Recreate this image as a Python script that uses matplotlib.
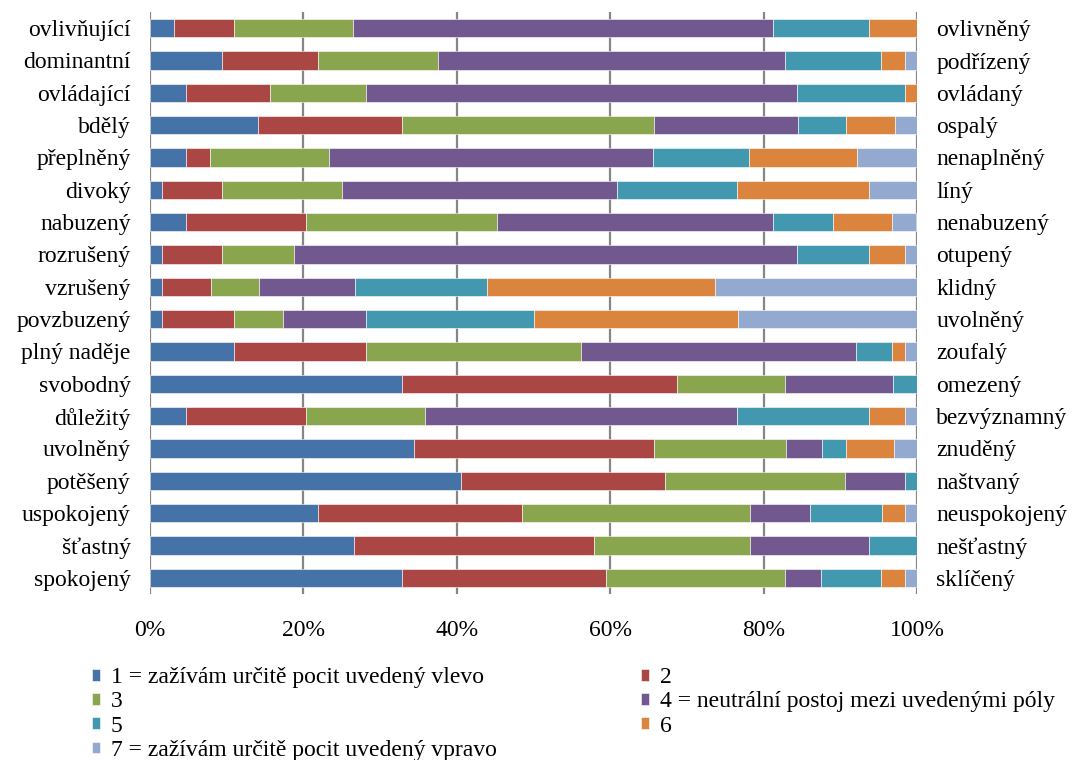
import numpy as np
import matplotlib
matplotlib.use("Agg")
from matplotlib import pyplot as plt

plt.rcParams["font.family"] = ["Liberation Serif", "DejaVu Serif"]

left_labels = ["ovlivňující", "dominantní", "ovládající", "bdělý", "přeplněný", "divoký",
               "nabuzený", "rozrušený", "vzrušený", "povzbuzený", "plný naděje", "svobodný",
               "důležitý", "uvolněný", "potěšený", "uspokojený", "šťastný", "spokojený"]
right_labels = ["ovlivněný", "podřízený", "ovládaný", "ospalý", "nenaplněný", "líný",
                "nenabuzený", "otupený", "klidný", "uvolněný", "zoufalý", "omezený",
                "bezvýznamný", "znuděný", "naštvaný", "neuspokojený", "nešťastný", "sklíčený"]

series_names = ["1 = zažívám určitě pocit uvedený vlevo", "2", "3",
                "4 = neutrální postoj mezi uvedenými póly", "5", "6",
                "7 = zažívám určitě pocit uvedený vpravo"]

# shares in percent, one list per answer level (rows in the order of left_labels)
s1 = [3.1, 9.4, 4.7, 14.1, 4.7, 1.6, 4.7, 1.6, 1.6, 1.6, 10.9, 32.8, 4.7, 34.4, 40.6, 21.9, 26.6, 32.8]
s2 = [7.8, 12.5, 10.9, 18.8, 3.1, 7.8, 15.6, 7.8, 6.3, 9.4, 17.2, 35.9, 15.6, 31.3, 26.6, 26.6, 31.3, 26.6]
s3 = [15.6, 15.6, 12.5, 32.8, 15.6, 15.6, 25.0, 9.4, 6.3, 6.3, 28.1, 14.1, 15.6, 17.2, 23.4, 29.7, 20.3, 23.4]
s4 = [54.7, 45.3, 56.3, 18.8, 42.2, 35.9, 35.9, 65.6, 12.5, 10.9, 35.9, 14.1, 40.6, 4.7, 7.8, 7.8, 15.6, 4.7]
s5 = [12.5, 12.5, 14.1, 6.3, 12.5, 15.6, 7.8, 9.4, 17.2, 21.9, 4.7, 3.1, 17.2, 3.1, 1.6, 9.4, 6.3, 7.8]
s6 = [6.3, 3.1, 1.6, 6.3, 14.1, 17.2, 7.8, 4.7, 29.7, 26.6, 1.6, 0.0, 4.7, 6.3, 0.0, 3.1, 0.0, 3.1]
s7 = [0.0, 1.6, 0.0, 3.1, 7.8, 6.3, 3.1, 1.6, 26.6, 23.4, 1.6, 0.0, 1.6, 3.1, 0.0, 1.6, 0.0, 1.6]

colors = ["#4572A7", "#AA4643", "#89A54E", "#71588F", "#4198AF", "#DB843D", "#93A9CF"]

FS = 17


def main():
    fig = plt.figure(figsize=(10.72, 7.6), dpi=100)
    ax = fig.add_axes([150 / 1072, 166 / 760, 767 / 1072, 582 / 760])

    series = [s1, s2, s3, s4, s5, s6, s7]
    y = np.arange(len(left_labels))
    left = np.zeros(len(left_labels))
    handles = []
    for vals, name, col in zip(series, series_names, colors):
        vals = np.array(vals)
        b = ax.barh(y, vals, left=left, height=0.57, color=col, label=name,
                    edgecolor="white", linewidth=0.4, zorder=3)
        handles.append(b)
        left += vals

    ax.set_xlim(0, 100)
    ax.set_ylim(len(left_labels) - 0.5, -0.5)
    ax.set_xticks(range(0, 101, 20))
    ax.set_xticklabels([f"{v}%" for v in range(0, 101, 20)], fontsize=FS)
    ax.tick_params(axis="x", length=0, pad=19)
    ax.set_yticks(y)
    ax.set_yticklabels(left_labels, fontsize=FS)
    ax.tick_params(axis="y", length=0, pad=14)
    ax.grid(axis="x", color="#868686", linewidth=1.6, zorder=0)
    for s in ax.spines.values():
        s.set_visible(False)

    ax2 = ax.twinx()
    ax2.set_ylim(ax.get_ylim())
    ax2.set_yticks(y)
    ax2.set_yticklabels(right_labels, fontsize=FS)
    ax2.tick_params(axis="y", length=0, pad=14)
    for s in ax2.spines.values():
        s.set_visible(False)

    # Excel-style row-major order in a two-column legend
    order = [0, 2, 4, 6, 1, 3, 5]
    fig.legend([handles[i] for i in order], [series_names[i] for i in order],
               ncol=2, mode="expand", frameon=False, fontsize=FS,
               bbox_to_anchor=(92 / 1072, 0.0, 963 / 1072, 93 / 760), loc="upper left",
               handlelength=0.34, handleheight=0.4, handletextpad=0.45,
               labelspacing=0.14, borderaxespad=0.0, borderpad=0.0)

    fig.savefig("out.png", dpi=100)


if __name__ == "__main__":
    main()
